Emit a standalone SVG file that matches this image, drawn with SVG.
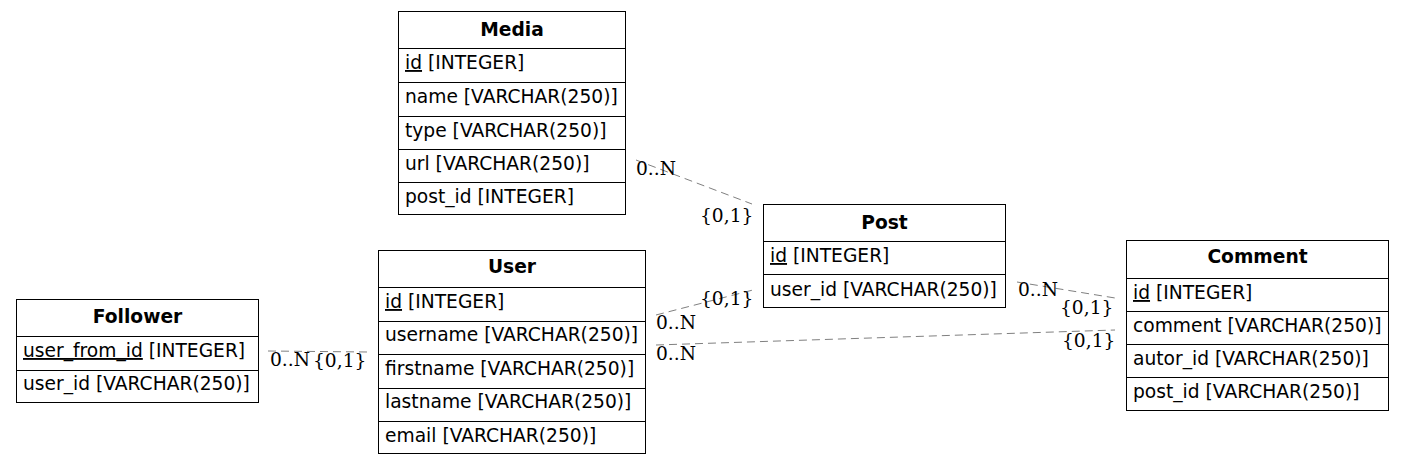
<svg xmlns="http://www.w3.org/2000/svg" width="1404" height="464" viewBox="0 0 1404 464">
<style>
.box{fill:#fff;stroke:#000;stroke-width:1}
.sep{stroke:#000;stroke-width:1}
.h{font-family:"DejaVu Sans",sans-serif;font-size:18.67px;font-weight:bold;text-anchor:middle}
.f{font-family:"DejaVu Sans",sans-serif;font-size:18.67px}
.l{font-family:"DejaVu Serif",serif;font-size:18.67px}
.e{fill:none;stroke:#808080;stroke-width:1;stroke-dasharray:8,5}
</style>
<rect width="1404" height="464" fill="#fff"/>
<g id="connectors">
<path class="e" d="M636,160 L752,204"/>
<path class="e" d="M268,351 L368,352"/>
<path class="e" d="M656,315 L753,290"/>
<path class="e" d="M656,345 L1115,330"/>
<path class="e" d="M1017,282 L1115,298"/>
<text class="l" x="636" y="175">0..N</text>
<text class="l" x="700" y="222">{0,1}</text>
<text class="l" x="270" y="366">0..N</text>
<text class="l" x="313" y="367">{0,1}</text>
<text class="l" x="700" y="305">{0,1}</text>
<text class="l" x="656" y="329">0..N</text>
<text class="l" x="656" y="360">0..N</text>
<text class="l" x="1062" y="347">{0,1}</text>
<text class="l" x="1018" y="296">0..N</text>
<text class="l" x="1060" y="314">{0,1}</text>
</g>
<g id="Media">
<rect class="box" x="398.5" y="11.5" width="227" height="203"/>
<line class="sep" x1="398" y1="48.5" x2="626" y2="48.5"/>
<line class="sep" x1="398" y1="82.5" x2="626" y2="82.5"/>
<line class="sep" x1="398" y1="116.5" x2="626" y2="116.5"/>
<line class="sep" x1="398" y1="149.5" x2="626" y2="149.5"/>
<line class="sep" x1="398" y1="182.5" x2="626" y2="182.5"/>
<text class="h" x="512" y="36">Media</text>
<text class="f" x="405" y="69"><tspan text-decoration="underline">id</tspan> [INTEGER]</text>
<text class="f" x="405" y="103">name [VARCHAR(250)]</text>
<text class="f" x="405" y="137">type [VARCHAR(250)]</text>
<text class="f" x="405" y="170">url [VARCHAR(250)]</text>
<text class="f" x="405" y="203">post_id [INTEGER]</text>
</g>
<g id="Post">
<rect class="box" x="763.5" y="204.5" width="242" height="103"/>
<line class="sep" x1="763" y1="241.5" x2="1006" y2="241.5"/>
<line class="sep" x1="763" y1="274.5" x2="1006" y2="274.5"/>
<text class="h" x="884.5" y="229">Post</text>
<text class="f" x="770" y="262"><tspan text-decoration="underline">id</tspan> [INTEGER]</text>
<text class="f" x="770" y="296">user_id [VARCHAR(250)]</text>
</g>
<g id="User">
<rect class="box" x="378.5" y="250.5" width="267" height="203"/>
<line class="sep" x1="378" y1="287.5" x2="646" y2="287.5"/>
<line class="sep" x1="378" y1="321.5" x2="646" y2="321.5"/>
<line class="sep" x1="378" y1="354.5" x2="646" y2="354.5"/>
<line class="sep" x1="378" y1="388.5" x2="646" y2="388.5"/>
<line class="sep" x1="378" y1="421.5" x2="646" y2="421.5"/>
<text class="h" x="512" y="273">User</text>
<text class="f" x="385" y="308"><tspan text-decoration="underline">id</tspan> [INTEGER]</text>
<text class="f" x="385" y="341">username [VARCHAR(250)]</text>
<text class="f" x="385" y="375">firstname [VARCHAR(250)]</text>
<text class="f" x="385" y="408">lastname [VARCHAR(250)]</text>
<text class="f" x="385" y="442">email [VARCHAR(250)]</text>
</g>
<g id="Follower">
<rect class="box" x="16.5" y="299.5" width="242" height="103"/>
<line class="sep" x1="16" y1="336.5" x2="259" y2="336.5"/>
<line class="sep" x1="16" y1="370.5" x2="259" y2="370.5"/>
<text class="h" x="137.5" y="323">Follower</text>
<text class="f" x="23" y="357"><tspan text-decoration="underline">user_from_id</tspan> [INTEGER]</text>
<text class="f" x="23" y="390">user_id [VARCHAR(250)]</text>
</g>
<g id="Comment">
<rect class="box" x="1126.5" y="240.5" width="262" height="170"/>
<line class="sep" x1="1126" y1="278.5" x2="1389" y2="278.5"/>
<line class="sep" x1="1126" y1="311.5" x2="1389" y2="311.5"/>
<line class="sep" x1="1126" y1="344.5" x2="1389" y2="344.5"/>
<line class="sep" x1="1126" y1="377.5" x2="1389" y2="377.5"/>
<text class="h" x="1257.5" y="263">Comment</text>
<text class="f" x="1133" y="299"><tspan text-decoration="underline">id</tspan> [INTEGER]</text>
<text class="f" x="1133" y="332">comment [VARCHAR(250)]</text>
<text class="f" x="1133" y="365">autor_id [VARCHAR(250)]</text>
<text class="f" x="1133" y="398">post_id [VARCHAR(250)]</text>
</g>
</svg>
